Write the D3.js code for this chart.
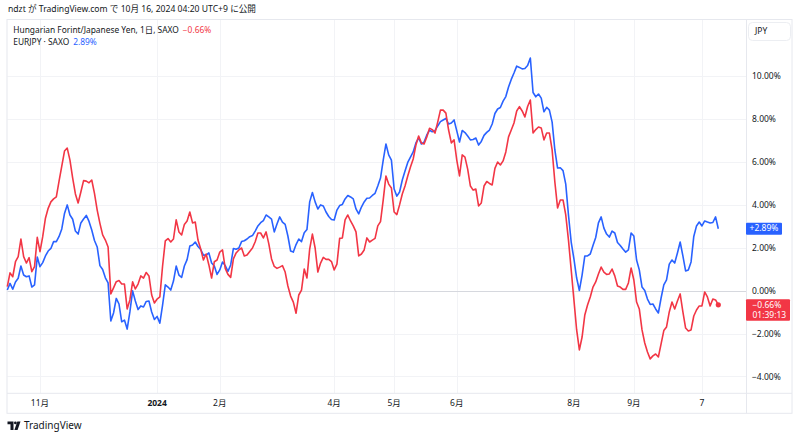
<!DOCTYPE html>
<html>
<head>
<meta charset="utf-8">
<script src="https://cdn.jsdelivr.net/npm/d3@7"></script>
<style>
  html, body { margin: 0; padding: 0; background: #ffffff; }
  svg { display: block; }
  text { font-family: "Noto Sans", "Noto Sans CJK JP", sans-serif; fill: #131722; }
</style>
</head>
<body>
<div id="chart"></div>
<script>
// ---------- data ----------
const startDate = "2023-10-16";
const endDate = "2024-10-15";

// Hungarian Forint / Japanese Yen, daily % change from start
const hufjpy = [
  0.19,0.83,0.65,1.35,1.59,2.41,1.59,1.29,1.54,0.89,
  1.12,2.49,1.82,2.52,3.38,3.84,4.14,4.28,4.37,5.11,
  5.81,6.51,6.65,6.09,5.25,4.51,4.09,4.60,5.13,5.11,
  5.03,5.16,4.54,3.76,3.14,2.60,2.36,2.04,-0.15,0.13,
  0.42,0.47,0.31,0.31,-0.85,-0.43,0.41,0.08,0.31,0.69,
  0.59,0.85,0.69,-0.20,-0.57,-0.39,-0.29,1.15,2.32,2.43,
  2.27,2.41,3.30,2.74,2.60,3.09,3.25,3.67,3.16,3.20,
  2.36,1.94,1.43,1.71,1.20,0.59,1.35,1.43,1.80,1.90,
  1.04,0.76,0.62,1.48,1.76,1.90,1.99,1.62,1.66,1.83,
  1.99,2.28,2.69,2.69,2.46,2.74,2.18,1.48,1.13,1.04,
  1.10,1.17,0.87,0.22,-0.25,-0.53,-1.05,-0.20,0.03,1.01,
  0.59,1.94,2.64,1.99,0.87,1.29,1.55,1.46,1.46,1.36,
  0.97,1.24,2.44,2.46,3.30,3.53,3.25,3.02,2.74,1.62,
  1.71,1.90,2.46,2.27,2.36,2.44,3.02,3.22,4.23,5.35,
  4.97,4.79,3.67,3.55,4.00,4.51,4.88,5.35,5.77,6.14,
  6.79,7.21,6.89,6.84,7.17,7.57,7.51,7.35,7.86,8.42,
  8.42,8.28,7.49,6.89,7.03,6.09,5.35,6.33,6.23,5.67,
  4.88,4.69,4.74,3.95,4.09,4.88,5.09,5.00,4.93,5.70,
  6.00,5.86,6.05,6.47,7.17,7.49,7.82,8.38,8.58,8.38,
  8.10,8.59,8.89,7.35,7.51,7.63,7.59,7.03,7.35,7.35,
  6.56,5.07,3.86,4.23,4.23,3.53,2.36,0.97,-0.43,-1.83,
  -2.76,-2.16,-1.13,-0.67,-0.29,0.17,0.41,0.78,1.10,0.87,
  0.76,0.78,1.01,0.69,0.22,0.17,0.06,0.06,0.36,1.06,
  0.50,-0.53,-0.85,-1.83,-2.44,-2.86,-3.18,-3.04,-2.95,-3.09,
  -2.48,-1.86,-1.69,-0.99,-0.53,-0.85,-0.48,-0.15,-0.99,-1.74,
  -1.88,-1.83,-1.18,-0.90,-0.71,-0.71,-0.06,-0.29,-0.71,-0.39,
  -0.43,-0.66
];

// EURJPY, daily % change from start
const eurjpy = [
  0.03,0.34,0.07,0.41,0.58,1.15,0.73,0.65,0.69,0.17,
  0.27,1.57,1.12,1.31,1.62,1.85,1.97,2.29,2.29,2.53,
  2.88,3.60,4.00,3.53,3.33,2.78,2.64,3.16,3.34,3.51,
  3.23,2.83,2.34,2.04,1.17,0.99,0.60,0.36,-1.41,-1.04,
  -0.36,-0.62,-1.45,-1.37,-1.79,-0.99,-0.01,-0.48,-0.88,-0.71,
  -0.76,-0.50,-0.48,-0.99,-1.34,-1.20,-1.51,-0.67,0.27,0.17,
  0.03,0.45,1.15,0.73,0.62,1.15,1.45,2.08,2.13,2.27,
  2.06,1.92,1.66,1.66,1.76,1.29,1.15,0.76,0.97,1.34,
  1.17,0.90,1.20,1.97,1.93,1.99,2.29,2.33,2.41,2.52,
  2.57,2.78,3.02,3.17,3.27,3.53,3.44,3.34,2.74,3.11,
  3.44,3.20,3.09,2.55,1.85,1.80,2.15,2.41,2.29,2.70,
  2.85,4.14,4.58,4.14,3.81,4.00,3.95,3.67,3.46,3.32,
  3.30,3.76,3.97,4.02,4.28,4.44,4.37,4.28,3.81,3.58,
  3.90,4.14,4.31,4.32,4.44,4.54,4.88,5.25,6.09,6.84,
  6.33,6.09,4.74,4.41,4.60,5.16,5.58,5.98,6.23,6.47,
  6.89,7.12,6.84,6.93,7.26,7.48,7.41,7.46,7.68,7.88,
  7.96,8.03,7.77,7.82,7.96,7.45,6.93,7.47,7.37,7.21,
  7.03,7.05,7.12,6.79,6.96,7.24,7.38,7.49,7.77,8.26,
  8.47,8.54,8.84,9.05,9.50,9.85,10.15,10.47,10.41,10.34,
  10.36,10.50,10.85,9.24,9.04,9.17,8.98,8.34,8.55,8.42,
  7.86,6.56,5.72,5.73,5.60,4.97,3.53,2.27,1.48,0.59,
  0.01,0.73,1.62,1.62,1.71,2.11,2.48,3.16,3.44,2.92,
  2.64,2.50,2.78,2.69,2.25,2.11,1.94,1.80,1.90,2.69,
  2.55,1.43,0.97,0.17,0.01,-0.39,-0.64,-0.62,-0.85,-1.04,
  -0.34,0.27,0.50,1.24,1.43,1.29,1.76,2.27,1.62,0.92,
  0.97,1.34,2.53,3.02,3.20,3.02,3.25,3.20,3.16,3.18,
  3.44,2.89
];

const yTicks = [10, 8, 6, 4, 2, 0, -2, -4];
const xTickDates = ["2023-11-01","2024-01-01","2024-02-01","2024-04-01","2024-05-01","2024-06-03","2024-08-01","2024-09-02","2024-10-07"];
const xTickLabels = ["11月","2024","2月","4月","5月","6月","8月","9月","7"];

const seriesNames = ["Hungarian Forint/Japanese Yen, 1日, SAXO", "EURJPY · SAXO"];
const lastValues = [-0.66, 2.89];
const headerText = "ndzt が TradingView.com で 10月 16, 2024 04:20 UTC+9 に公開";
const countdown = "01:39:13";

// ---------- categories: trading days ----------
const fmtDay = d3.utcFormat("%Y-%m-%d");
const days = d3.utcDay.range(new Date(startDate + "T00:00:00Z"), d3.utcDay.offset(new Date(endDate + "T00:00:00Z"), 1))
  .filter(d => d.getUTCDay() !== 0 && d.getUTCDay() !== 6)
  .map(fmtDay);

// ---------- layout ----------
const W = 800, H = 439;
const RED = "#F23645", BLUE = "#2962FF";
const paneL = 7.3, paneT = 20, paneR = 746, axisR = 792, paneB = 393.3, timeB = 413.3;

const svg = d3.select("#chart").append("svg").attr("width", W).attr("height", H);
svg.append("rect").attr("width", W).attr("height", H).attr("fill", "#fff");

const x = d3.scalePoint().domain(days).range([7.3, 718.3]);
const y = d3.scaleLinear().domain([0, 10]).range([290.7, 76.2]);

const fmtPct = v => (v < 0 ? "\u2212" : "") + Math.abs(v).toFixed(2) + "%";

// grid
const grid = svg.append("g");
grid.selectAll("line.h").data(yTicks.filter(v => v !== 0)).join("line")
  .attr("x1", paneL).attr("x2", paneR)
  .attr("y1", d => Math.round(y(d)) + 0.5).attr("y2", d => Math.round(y(d)) + 0.5)
  .attr("stroke", "#f2f3f6").attr("stroke-width", 1);
grid.selectAll("line.v").data(xTickDates).join("line")
  .attr("x1", d => Math.round(x(d)) + 0.5).attr("x2", d => Math.round(x(d)) + 0.5)
  .attr("y1", paneT).attr("y2", paneB)
  .attr("stroke", "#f2f3f6").attr("stroke-width", 1);
// zero baseline
grid.append("line").attr("x1", paneL).attr("x2", paneR)
  .attr("y1", Math.round(y(0)) + 0.5).attr("y2", Math.round(y(0)) + 0.5)
  .attr("stroke", "#d6d8de").attr("stroke-width", 1);

// frame
const frame = svg.append("g").attr("stroke", "#e6e8ee").attr("stroke-width", 1).attr("fill", "none");
frame.append("rect").attr("x", 7).attr("y", 19.5).attr("width", axisR - 7).attr("height", timeB - 19.5);
frame.append("line").attr("x1", paneR + 0.5).attr("x2", paneR + 0.5).attr("y1", 19.5).attr("y2", timeB);
frame.append("line").attr("x1", 7).attr("x2", axisR).attr("y1", paneB).attr("y2", paneB);

// lines
const line = d3.line().x((d, i) => x(days[i])).y(d => y(d));
svg.append("path").datum(eurjpy).attr("d", line)
  .attr("fill", "none").attr("stroke", BLUE).attr("stroke-width", 1.6).attr("stroke-linejoin", "round");
svg.append("path").datum(hufjpy).attr("d", line)
  .attr("fill", "none").attr("stroke", RED).attr("stroke-width", 1.6).attr("stroke-linejoin", "round");
svg.append("circle").attr("cx", x(days[days.length - 1])).attr("cy", y(hufjpy[hufjpy.length - 1]))
  .attr("r", 2.6).attr("fill", RED);

// y axis labels
svg.append("g").selectAll("text").data(yTicks).join("text")
  .attr("x", 752).attr("y", d => y(d) + 1)
  .attr("dominant-baseline", "middle")
  .attr("font-size", 8.5)
  .text(fmtPct);

// x axis labels
svg.append("g").selectAll("text").data(xTickDates).join("text")
  .attr("x", d => x(d)).attr("y", 404)
  .attr("text-anchor", "middle").attr("dominant-baseline", "middle")
  .attr("font-size", 8.5)
  .attr("font-weight", (d, i) => xTickLabels[i] === "2024" ? "bold" : "normal")
  .text((d, i) => xTickLabels[i]);

// JPY box
svg.append("rect").attr("x", 748.5).attr("y", 22.5).attr("width", 42).attr("height", 18).attr("rx", 4)
  .attr("fill", "#fff").attr("stroke", "#eceef2");
svg.append("text").attr("x", 755).attr("y", 32).attr("dominant-baseline", "middle")
  .attr("font-size", 8.5).text("JPY");

// last value labels
const blueY = y(lastValues[1]);
svg.append("rect").attr("x", 746).attr("y", blueY - 6).attr("width", 36).attr("height", 12).attr("rx", 1).attr("fill", BLUE);
svg.append("text").attr("x", 764).attr("y", blueY + 0.5).attr("text-anchor", "middle").attr("dominant-baseline", "middle")
  .attr("font-size", 8.5).style("fill", "#fff").text("+" + lastValues[1].toFixed(2) + "%");
const redY = y(lastValues[0]);
svg.append("rect").attr("x", 746).attr("y", redY - 5.5).attr("width", 44).attr("height", 21.5).attr("rx", 1).attr("fill", RED);
svg.append("text").attr("x", 752.5).attr("y", redY + 1).attr("dominant-baseline", "middle")
  .attr("font-size", 8.5).style("fill", "#fff").text(fmtPct(lastValues[0]));
svg.append("text").attr("x", 752.5).attr("y", redY + 10.8).attr("dominant-baseline", "middle")
  .attr("font-size", 8.5).style("fill", "#fff").text(countdown);

// header
svg.append("text").attr("x", 8).attr("y", 10).attr("dominant-baseline", "middle")
  .attr("font-size", 8.6).text(headerText);

// legend
const leg = svg.append("g");
const l1 = leg.append("text").attr("x", 13.3).attr("y", 31.2).attr("dominant-baseline", "middle").attr("font-size", 8.4);
l1.append("tspan").text(seriesNames[0]);
l1.append("tspan").attr("dx", 4).style("fill", RED).text(fmtPct(lastValues[0]));
const l2 = leg.append("text").attr("x", 13.3).attr("y", 43).attr("dominant-baseline", "middle").attr("font-size", 8.4);
l2.append("tspan").text(seriesNames[1]);
l2.append("tspan").attr("dx", 4).style("fill", BLUE).text(lastValues[1].toFixed(2) + "%");

// TradingView logo
const logo = svg.append("g").attr("fill", "#131722");
logo.append("path").attr("d", "M7.5,421.5 H13.5 V430 H10.5 V424.3 H7.5 Z");
logo.append("circle").attr("cx", 15.4).attr("cy", 422.9).attr("r", 1.4);
logo.append("path").attr("d", "M17.3,421.5 H20.5 L17.6,430 H14.4 Z");
svg.append("text").attr("x", 24).attr("y", 426).attr("dominant-baseline", "middle")
  .attr("font-size", 10).text("TradingView");
</script>
</body>
</html>
